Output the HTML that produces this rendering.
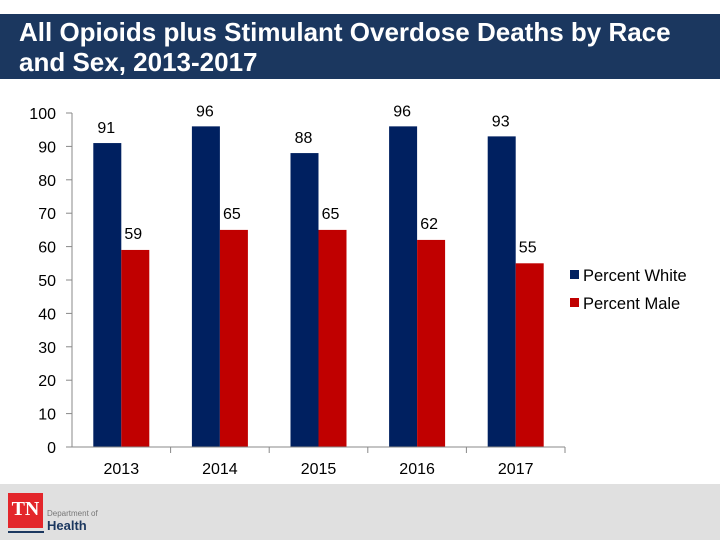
<!DOCTYPE html>
<html><head><meta charset="utf-8"><style>
body{margin:0;width:720px;height:540px;background:#fff;overflow:hidden;position:relative;font-family:"Liberation Sans",Arial,sans-serif}
#title{position:absolute;left:0;top:14px;width:720px;height:65px;background:#1b375f;color:#fff;font-weight:bold;font-size:26px;line-height:30px;padding:3px 0 0 19px;box-sizing:border-box;white-space:nowrap}
#footer{position:absolute;left:0;top:484px;width:720px;height:56px;background:#e0e0e0}
</style></head><body>
<div id="title">All Opioids plus Stimulant Overdose Deaths by Race<br>and Sex, 2013-2017</div>
<div id="footer">
<div style="position:absolute;left:8px;top:9px;width:35px;height:35px;background:#e3262b;color:#fff;font-family:'Liberation Serif',serif;font-weight:bold;font-size:20px;text-align:center;line-height:32px">TN</div>
<div style="position:absolute;left:8px;top:47px;width:36px;height:2px;background:#1b375f"></div>
<div style="position:absolute;left:47px;top:25px;font-size:8px;color:#777">Department of</div>
<div style="position:absolute;left:47px;top:34px;font-size:13px;font-weight:bold;color:#1b375f">Health</div>
</div>
<svg id="chart" width="720" height="540" style="position:absolute;left:0;top:0"></svg>
<script>
const categories=["2013","2014","2015","2016","2017"];
const white=[91,96,88,96,93];
const male=[59,65,65,62,55];
const yTicks=[0,10,20,30,40,50,60,70,80,90,100];
const svg=document.getElementById('chart');
const NS='http://www.w3.org/2000/svg';
const x0=72,x1=565,y0=447,y1=113;
const bw=(x1-x0)/categories.length;
const yS=v=>y0-(v/100)*(y0-y1);
function mk(t,a){const e=document.createElementNS(NS,t);for(const k in a)e.setAttribute(k,a[k]);svg.appendChild(e);return e;}
yTicks.forEach(v=>{
 const l=mk('line',{x1:x0-6,x2:x0,y1:yS(v),y2:yS(v),stroke:'#888'});
 
 
 const t=mk('text',{x:x0-16,y:yS(v)+6,'text-anchor':'end','font-size':16,fill:'#000'});
 t.textContent=v;
 
 
});
categories.forEach((c,i)=>{
 const cx=x0+bw*(i+0.5);
 const bt=mk('line',{x1:x0+bw*(i+1),x2:x0+bw*(i+1),y1:y0,y2:y0+6,stroke:'#888'});
 
 
 const b1=mk('rect',{x:cx-28,y:yS(white[i]),width:28,height:y0-yS(white[i]),fill:'#002060'});
 
 
 const b2=mk('rect',{x:cx,y:yS(male[i]),width:28,height:y0-yS(male[i]),fill:'#c00000'});
 
 
 const l1=mk('text',{x:cx-15,y:yS(white[i])-10,'text-anchor':'middle','font-size':16});
 l1.textContent=white[i];
 
 
 const l2=mk('text',{x:cx+12,y:yS(male[i])-11,'text-anchor':'middle','font-size':16});
 l2.textContent=male[i];
 
 
 const xl=mk('text',{x:cx,y:y0+27,'text-anchor':'middle','font-size':16});
 xl.textContent=c;
 
 
});
const ya=mk('line',{x1:x0,x2:x0,y1:y1,y2:y0,stroke:'#888'});


const xa=mk('line',{x1:x0,x2:x1,y1:y0,y2:y0,stroke:'#888'});


[['Percent White','#002060',275],['Percent Male','#c00000',303]].forEach(([n,col,y])=>{
 const s=mk('rect',{x:570,y:y-5,width:9,height:9,fill:col});
 
 
 const t=mk('text',{x:583,y:y+6,'font-size':16.5});
 t.textContent=n;
 
 
});
</script>
</body></html>
